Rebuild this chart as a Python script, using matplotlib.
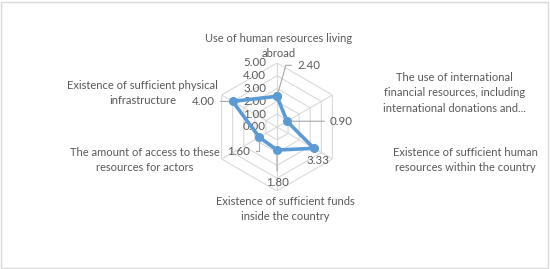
import numpy as np
import matplotlib.pyplot as plt
from matplotlib.patches import Rectangle

plt.rcParams['font.family'] = ['Lato', 'DejaVu Sans']

categories = ['Use of human resources living\nabroad',
              'The use of international\nfinancial resources, including\ninternational donations and...',
              'Existence of sufficient human\nresources within the country',
              'Existence of sufficient funds\ninside the country',
              'The amount of access to these\nresources for actors',
              'Existence of sufficient physical\ninfrastructure']
values = [2.40, 0.90, 3.33, 1.80, 1.60, 4.00]
levels = [0, 1, 2, 3, 4, 5]

text_c = '#595959'
grid_c = '#d9d9d9'
blue = '#5b9bd5'

W, H = 550, 269
fig = plt.figure(figsize=(W / 100, H / 100), dpi=100)
fig.patches.append(Rectangle((0.002, 0.004), 0.994, 0.99, transform=fig.transFigure,
                             fill=False, edgecolor='#d9d9d9', linewidth=1))

cx, cy, R = 277, 142, 64
ax = fig.add_axes([(cx - R) / W, (cy - R) / H, 2 * R / W, 2 * R / H], projection='polar')
ax.set_theta_zero_location('N')
ax.set_theta_direction(-1)
ax.set_ylim(0, 5)
ax.axis('off')

n = len(categories)
theta = np.arange(n) * 2 * np.pi / n
theta_c = np.append(theta, theta[0])

# hexagon grid and spokes
for lv in levels[1:]:
    ax.plot(theta_c, [lv] * (n + 1), color=grid_c, lw=0.8, zorder=1)
for t in theta:
    ax.plot([t, t], [0, 5], color=grid_c, lw=0.8, zorder=1)

# radial tick labels
for lv in levels:
    ax.annotate(f'{lv:.2f}', xy=(0, lv), xytext=(-11, 0), textcoords='offset pixels',
                ha='right', va='center', fontsize=8.3, color=text_c, zorder=2)

vals_c = values + values[:1]
ax.plot(theta_c, vals_c, color=blue, lw=2.6, marker='o', markersize=5.5, zorder=4)

# data labels with leader lines (dx, dy, ha, connection)
lab_off = [(20, 31, 'left', 'angle,angleA=0,angleB=74,rad=0'),
           (43, 0, 'left', 'arc3'),
           (4, -12, 'center', None),
           (0, -32, 'center', 'arc3'),
           (-9, -14, 'right', 'angle,angleA=0,angleB=90,rad=0'),
           (-18, 0, 'right', 'arc3')]
for t, v, (dx, dy, ha, cs) in zip(theta, values, lab_off):
    arrow = None
    if cs:
        arrow = dict(arrowstyle='-', color='#a6a6a6', lw=0.8, shrinkA=2, shrinkB=3,
                     connectionstyle=cs)
    ax.annotate(f'{v:.2f}', xy=(t, v), xytext=(dx, dy), textcoords='offset pixels',
                ha=ha, va='center', fontsize=8.3, color=text_c, zorder=5,
                arrowprops=arrow)

# category labels
cat_off = [(2, 17), (122, 2), (133, -1), (8, -18), (-77, -1), (-79, 2)]
for t, c, (dx, dy) in zip(theta, categories, cat_off):
    ax.annotate(c, xy=(t, 5), xytext=(dx, dy), textcoords='offset pixels',
                ha='center', va='center', fontsize=8, color=text_c,
                linespacing=1.45, annotation_clip=False)

fig.savefig('out.png', dpi=100)
